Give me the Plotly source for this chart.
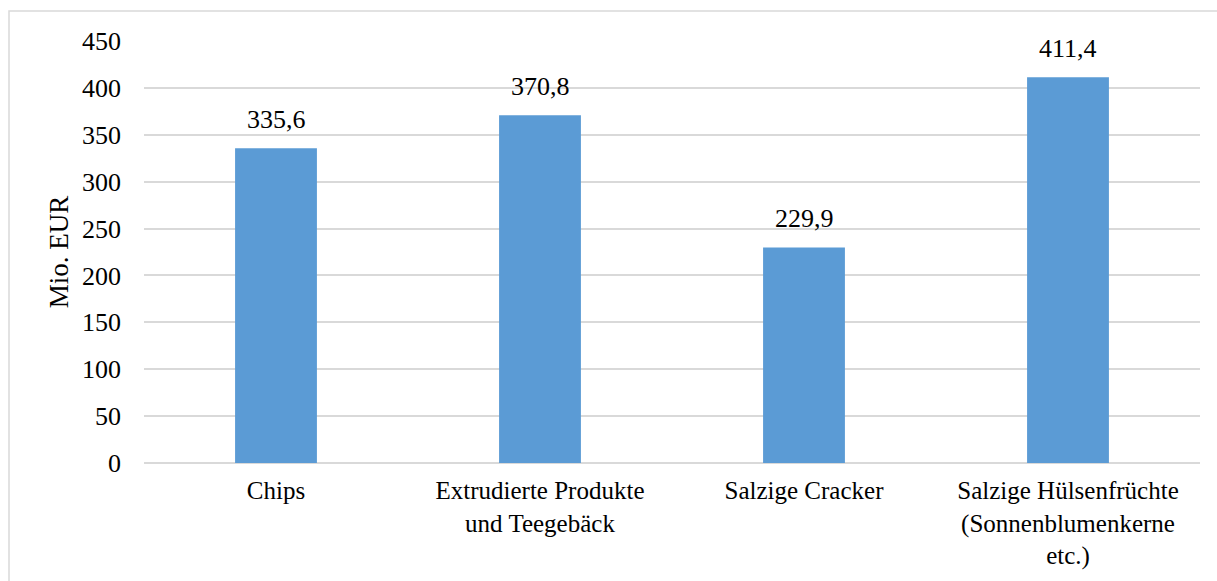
import plotly.graph_objects as go

categories = [
    "Chips",
    "Extrudierte Produkte<br>und Teegebäck",
    "Salzige Cracker",
    "Salzige Hülsenfrüchte<br>(Sonnenblumenkerne<br>etc.)",
]
values = [335.6, 370.8, 229.9, 411.4]
y_ticks = [0, 50, 100, 150, 200, 250, 300, 350, 400, 450]

FONT = "Liberation Serif"
FS = 26
BAR_COLOR = "#5B9BD5"
GRID_COLOR = "#D9D9D9"

W, H = 1217, 581
L, R, T, B = 144, 17, 41, 118
plot_w = W - L - R
plot_h = H - T - B

fig = go.Figure(
    go.Bar(
        x=categories,
        y=values,
        marker=dict(color=BAR_COLOR, line=dict(width=0)),
        width=0.31,
        hoverinfo="skip",
    )
)

# value labels above each bar, formatted with a decimal comma
for c, v in zip(categories, values):
    fig.add_annotation(
        x=c, y=v, text=f"{v:.1f}".replace(".", ","),
        showarrow=False, yanchor="bottom", yshift=12,
        font=dict(family=FONT, size=FS, color="#000000"),
    )

# light frame around the chart area
fig.add_shape(
    type="rect", xref="paper", yref="paper",
    x0=(9 - L) / plot_w, x1=1.2,
    y0=-0.6, y1=1 + (T - 11) / plot_h,
    line=dict(color=GRID_COLOR, width=1.5), fillcolor="rgba(0,0,0,0)",
    layer="below",
)

fig.update_layout(
    width=W, height=H,
    margin=dict(l=L, r=R, t=T, b=B),
    paper_bgcolor="#FFFFFF",
    plot_bgcolor="#FFFFFF",
    showlegend=False,
    font=dict(family=FONT, size=FS, color="#000000"),
    xaxis=dict(
        showline=False, showgrid=False, zeroline=False, ticks="",
        automargin=False,
        ticklabelstandoff=10,
        tickfont=dict(family=FONT, size=25, color="#000000"),
    ),
    yaxis=dict(
        range=[0, 450], tickvals=y_ticks,
        automargin=False,
        showgrid=True, gridcolor=GRID_COLOR, gridwidth=1.5,
        zeroline=True, zerolinecolor=GRID_COLOR, zerolinewidth=1.5,
        showline=False, ticks="",
        ticklabelstandoff=22,
        tickfont=dict(family=FONT, size=FS, color="#000000"),
        title=dict(text="Mio. EUR", font=dict(family=FONT, size=27), standoff=5),
    ),
)

fig.write_html("out.html")
